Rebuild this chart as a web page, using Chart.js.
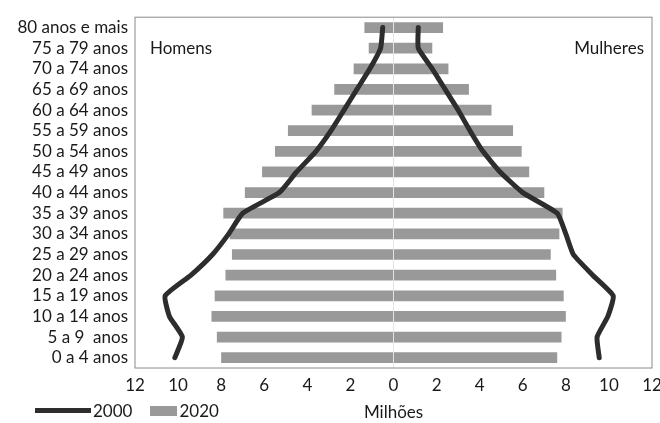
<!DOCTYPE html>
<html lang="pt">
<head>
<meta charset="UTF-8">
<title>Pirâmide etária 2000 e 2020</title>
<style>
    * { margin: 0; padding: 0; box-sizing: border-box; }
    body { background: #fff; font-family: Lato, 'Open Sans', sans-serif; color: #1a1a1a; }
    #wrap { position: relative; width: 660px; height: 423px; }
    #legend { position: absolute; left: 35px; top: 400px; font-size: 17px; display: flex; align-items: center; }
    #legend span.line { display: inline-block; width: 56px; height: 5px; background: #2d2d2d; margin-right: 2px; }
    #legend span.box { display: inline-block; width: 27px; height: 10px; background: #999; margin-left: 18px; margin-right: 2px; }
</style>
</head>
<body>
<div id="wrap">
    <canvas id="chart" width="660" height="423"></canvas>
    <div id="legend"><span class="line"></span>2000<span class="box"></span>2020</div>
</div>

<script src="https://cdn.jsdelivr.net/npm/chart.js"></script>
<script>
    // faixas etárias, de cima para baixo
    const ageGroups = ['80 anos e mais', '75 a 79 anos', '70 a 74 anos', '65 a 69 anos', '60 a 64 anos',
        '55 a 59 anos', '50 a 54 anos', '45 a 49 anos', '40 a 44 anos', '35 a 39 anos', '30 a 34 anos',
        '25 a 29 anos', '20 a 24 anos', '15 a 19 anos', '10 a 14 anos', '5 a 9  anos', '0 a 4 anos'];

    // milhões de pessoas
    const men2020   = [1.35, 1.15, 1.85, 2.75, 3.8, 4.9, 5.5, 6.1, 6.9, 7.9, 7.6, 7.5, 7.8, 8.3, 8.45, 8.2, 8.0];
    const women2020 = [2.3, 1.8, 2.55, 3.5, 4.55, 5.55, 5.95, 6.3, 7.0, 7.85, 7.7, 7.3, 7.55, 7.9, 8.0, 7.8, 7.6];
    const men2000   = [0.5, 0.6, 1.1, 1.7, 2.3, 2.9, 3.6, 4.5, 5.3, 7.0, 7.65, 8.4, 9.4, 10.6, 10.4, 9.8, 10.15];
    const women2000 = [1.15, 1.15, 1.8, 2.4, 3.0, 3.55, 4.15, 4.95, 6.0, 7.6, 8.0, 8.35, 9.25, 10.2, 9.95, 9.45, 9.55];

    const xTicks = [-12, -10, -8, -6, -4, -2, 0, 2, 4, 6, 8, 10, 12];

    const barGrey = '#999999';
    const lineDark = '#2d2d2d';
    const font = { family: 'Lato, "Open Sans", sans-serif', size: 17 };

    // moldura do gráfico, linha do zero e rótulos Homens / Mulheres
    const framePlugin = {
        id: 'frame',
        afterDatasetsDraw(chart) {
            const { ctx, chartArea: a, scales } = chart;
            const x0 = scales.x.getPixelForValue(0);
            ctx.save();
            ctx.strokeStyle = '#e4e4e4';
            ctx.lineWidth = 1;
            ctx.beginPath();
            ctx.moveTo(x0, a.top);
            ctx.lineTo(x0, a.bottom);
            ctx.stroke();
            ctx.strokeStyle = '#8a8a8a';
            ctx.strokeRect(a.left, a.top, a.right - a.left, a.bottom - a.top);
            ctx.fillStyle = '#1a1a1a';
            ctx.font = '17px Lato, "Open Sans", sans-serif';
            ctx.textBaseline = 'middle';
            ctx.textAlign = 'left';
            ctx.fillText('Homens', a.left + 15, a.top + 31);
            ctx.textAlign = 'right';
            ctx.fillText('Mulheres', a.right - 8, a.top + 31);
            ctx.restore();
        }
    };

    new Chart(document.getElementById('chart'), {
        type: 'bar',
        data: {
            labels: ageGroups,
            datasets: [
                { type: 'line', label: '2000 H', data: men2000.map(v => -v), borderColor: lineDark, borderWidth: 5,
                  pointRadius: 0, tension: 0.15, borderJoinStyle: 'round', borderCapStyle: 'round', order: 0 },
                { type: 'line', label: '2000 M', data: women2000, borderColor: lineDark, borderWidth: 5,
                  pointRadius: 0, tension: 0.15, borderJoinStyle: 'round', borderCapStyle: 'round', order: 0 },
                { label: '2020 H', data: men2020.map(v => -v), backgroundColor: barGrey, grouped: false,
                  barPercentage: 0.52, categoryPercentage: 1, order: 1 },
                { label: '2020 M', data: women2020, backgroundColor: barGrey, grouped: false,
                  barPercentage: 0.52, categoryPercentage: 1, order: 1 }
            ]
        },
        options: {
            indexAxis: 'y',
            responsive: false,
            animation: false,
            layout: { padding: { top: 15, right: 0, left: 0, bottom: 0 } },
            plugins: {
                legend: { display: false },
                tooltip: { enabled: false }
            },
            scales: {
                y: {
                    grid: { display: false, drawTicks: false },
                    border: { display: false },
                    ticks: { color: '#1a1a1a', font: font, padding: 7, autoSkip: false },
                    afterFit(scale) { scale.width = 135; }
                },
                x: {
                    min: -12,
                    max: 12,
                    grid: { display: false, drawTicks: false },
                    border: { display: false },
                    afterBuildTicks(scale) { scale.ticks = xTicks.map(v => ({ value: v })); },
                    ticks: {
                        color: '#1a1a1a',
                        font: font,
                        padding: 7,
                        callback: v => Math.abs(v)
                    },
                    title: {
                        display: true,
                        text: 'Milhões',
                        color: '#1a1a1a',
                        font: font,
                        padding: { top: 4, bottom: 0 }
                    },
                    afterFit(scale) {
                        scale.height = 55;
                        scale.paddingLeft = 0;
                        scale.paddingRight = 8;
                    }
                }
            }
        },
        plugins: [framePlugin]
    });
</script>
</body>
</html>
